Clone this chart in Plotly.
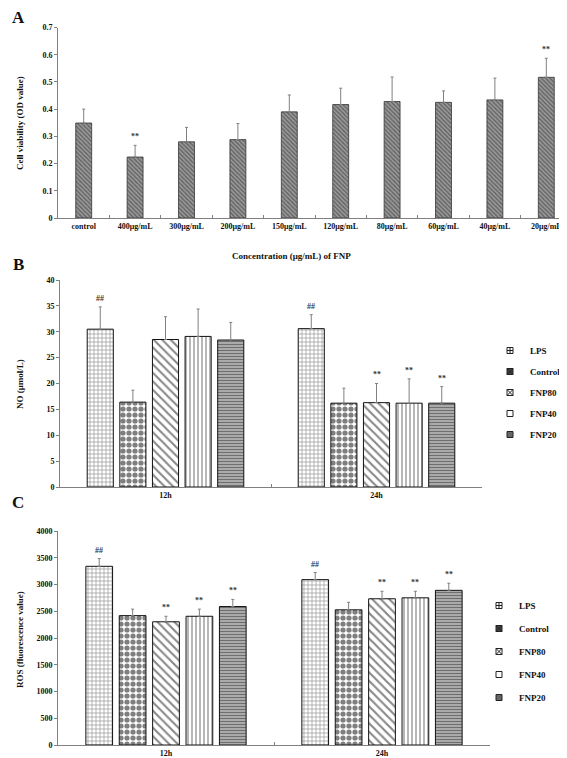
import plotly.graph_objects as go

# ---------------- data ----------------
# Panel A: cell viability
conc_labels = ["control", "400μg/mL", "300μg/mL", "200μg/mL", "150μg/mL",
               "120μg/mL", "80μg/mL", "60μg/mL", "40μg/mL", "20μg/mL"]
viability = [0.349, 0.224, 0.280, 0.288, 0.390, 0.417, 0.428, 0.425, 0.434, 0.517]
viability_err = [0.051, 0.043, 0.053, 0.059, 0.062, 0.060, 0.090, 0.042, 0.080, 0.070]
viability_sig = ["", "**", "", "", "", "", "", "", "", "**"]

# Panels B and C: groups over time
time_labels = ["12h", "24h"]
groups = ["LPS", "Control", "FNP80", "FNP40", "FNP20"]

no_lps = [30.5, 30.6]
no_control = [16.4, 16.2]
no_fnp80 = [28.5, 16.3]
no_fnp40 = [29.1, 16.2]
no_fnp20 = [28.4, 16.2]
no_lps_err = [4.3, 2.7]
no_control_err = [2.3, 2.9]
no_fnp80_err = [4.4, 3.7]
no_fnp40_err = [5.3, 4.7]
no_fnp20_err = [3.4, 3.2]
no_lps_sig = ["##", "##"]
no_control_sig = ["", ""]
no_fnp80_sig = ["", "**"]
no_fnp40_sig = ["", "**"]
no_fnp20_sig = ["", "**"]

ros_lps = [3340, 3091]
ros_control = [2418, 2527]
ros_fnp80 = [2303, 2733]
ros_fnp40 = [2406, 2751]
ros_fnp20 = [2588, 2891]
ros_lps_err = [145, 133]
ros_control_err = [122, 140]
ros_fnp80_err = [103, 140]
ros_fnp40_err = [134, 122]
ros_fnp20_err = [134, 133]
ros_lps_sig = ["##", "##"]
ros_control_sig = ["", ""]
ros_fnp80_sig = ["**", "**"]
ros_fnp40_sig = ["**", "**"]
ros_fnp20_sig = ["**", "**"]

# ---------------- styling ----------------
W, H = 567, 758
FONT = "Liberation Serif"
BARGAP = 0.227
ERRC = "#808080"
AXC = "#808080"
SIGC = "#333333"

patterns = [
    dict(shape="+", size=4, solidity=0.3, fgcolor="#222", bgcolor="#ffffff"),
    dict(shape=".", size=6, solidity=0.6, fgcolor="#000", bgcolor="#ffffff"),
    dict(shape="\\", size=6, solidity=0.35, fgcolor="#111", bgcolor="#ffffff"),
    dict(shape="|", size=4, solidity=0.35, fgcolor="#333", bgcolor="#ffffff"),
    dict(shape="-", size=3, solidity=0.5, fgcolor="#222", bgcolor="#bdbdbd"),
]
legend_symbols = [
    dict(symbol="square-cross-open", color="#222"),
    dict(symbol="square-x", color="#444"),
    dict(symbol="square-x-open", color="#222"),
    dict(symbol="square-open", color="#222"),
    dict(symbol="square", color="#666"),
]

def xd(a, b):
    return [a / W, b / W]

def yd(bottom, top):
    return [1 - bottom / H, 1 - top / H]

fig = go.Figure()
annotations = []

# Panel A
fig.add_trace(go.Bar(
    x=conc_labels, y=viability, width=0.31,
    marker=dict(color="#8c8c8c",
                pattern=dict(shape="\\", size=3, solidity=0.45, fgcolor="#2a2a2a", bgcolor="#9a9a9a"),
                line=dict(color="#333", width=0.8)),
    error_y=dict(type="data", array=viability_err, arrayminus=[0] * len(viability_err),
                 symmetric=False, color=ERRC, thickness=1, width=1.5),
    showlegend=False, xaxis="x", yaxis="y",
))
for lab, v, e, s in zip(conc_labels, viability, viability_err, viability_sig):
    if s:
        annotations.append(dict(x=lab, y=v + e, xref="x", yref="y", text=s, showarrow=False,
                                yanchor="bottom", yshift=2,
                                font=dict(family=FONT, size=8, color=SIGC, weight="bold")))

def add_group_panel(xa, ya, legend, means, errs, sigs):
    n = len(groups)
    for i, (g, m, e, s) in enumerate(zip(groups, means, errs, sigs)):
        fig.add_trace(go.Bar(
            x=time_labels, y=m, name=g, showlegend=False,
            marker=dict(color="white", pattern=patterns[i], line=dict(color="#111", width=1)),
            error_y=dict(type="data", array=e, arrayminus=[0] * len(e), symmetric=False,
                         color=ERRC, thickness=1, width=1.5),
            xaxis=xa, yaxis=ya,
        ))
        # legend entry with a small symbol, as in the original figure
        fig.add_trace(go.Scatter(
            x=[None], y=[None], mode="markers", name=g, legend=legend,
            legendgroup=legend + g,
            marker=dict(size=6, symbol=legend_symbols[i]["symbol"],
                        color=legend_symbols[i]["color"], line=dict(color="#222", width=1)),
            xaxis=xa, yaxis=ya, hoverinfo="skip",
        ))
        for k, (mv, ev, sv) in enumerate(zip(m, e, s)):
            if sv:
                xpos = k + (i - (n - 1) / 2) * (1 - BARGAP) / n
                annotations.append(dict(x=xpos, y=mv + ev, xref=xa, yref=ya, text=sv,
                                        showarrow=False, yanchor="bottom", yshift=2,
                                        font=dict(family=FONT, size=8, color=SIGC, weight="bold")))

add_group_panel("x2", "y2", "legend",
                [no_lps, no_control, no_fnp80, no_fnp40, no_fnp20],
                [no_lps_err, no_control_err, no_fnp80_err, no_fnp40_err, no_fnp20_err],
                [no_lps_sig, no_control_sig, no_fnp80_sig, no_fnp40_sig, no_fnp20_sig])
add_group_panel("x3", "y3", "legend2",
                [ros_lps, ros_control, ros_fnp80, ros_fnp40, ros_fnp20],
                [ros_lps_err, ros_control_err, ros_fnp80_err, ros_fnp40_err, ros_fnp20_err],
                [ros_lps_sig, ros_control_sig, ros_fnp80_sig, ros_fnp40_sig, ros_fnp20_sig])

tickfont = dict(family=FONT, size=8, color="#111", weight="bold")

def xaxis_style(domain, anchor):
    return dict(domain=domain, anchor=anchor, type="category", showline=True, linecolor=AXC,
                linewidth=1, ticks="inside", tickson="boundaries", ticklen=3, tickcolor=AXC,
                tickfont=tickfont, showgrid=False, zeroline=False, automargin=False, fixedrange=True)

def yaxis_style(domain, anchor, rng, dtick):
    return dict(domain=domain, anchor=anchor, range=rng, dtick=dtick, showline=True, linecolor=AXC,
                linewidth=1, ticks="outside", ticklen=3, tickcolor=AXC, tickfont=tickfont,
                showgrid=False, zeroline=False, automargin=False, fixedrange=True)

def ann_text(text, x, y, size=9, angle=0):
    annotations.append(dict(text=text, x=x / W, y=1 - y / H, xref="paper", yref="paper",
                            showarrow=False, textangle=angle, xanchor="center", yanchor="middle",
                            font=dict(family=FONT, size=size, color="#111", weight="bold")))

ann_text("A", 10, 9, size=17)
ann_text("B", 10, 256, size=17)
ann_text("C", 10, 494, size=17)
ann_text("Cell viability (OD value)", 12, 115, angle=-90)
ann_text("Concentration (μg/mL) of FNP", 283, 248)
ann_text("NO (μmol/L)", 12, 376, angle=-90)
ann_text("ROS (fluorescence value)", 12, 632, angle=-90)

legend_font = dict(family=FONT, size=9, color="#111", weight="bold")

fig.update_layout(
    width=W, height=H,
    margin=dict(l=0, r=0, t=0, b=0),
    paper_bgcolor="white", plot_bgcolor="white",
    barmode="group", bargap=BARGAP, bargroupgap=0.2,
    xaxis=xaxis_style(xd(50, 564), "y"),
    yaxis=yaxis_style(yd(210, 19.5), "x", [0, 0.7], 0.1),
    xaxis2=xaxis_style(xd(52, 474), "y2"),
    yaxis2=yaxis_style(yd(479, 272), "x2", [0, 40], 5),
    xaxis3=xaxis_style(xd(50, 482), "y3"),
    yaxis3=yaxis_style(yd(737, 523), "x3", [0, 4000], 500),
    legend=dict(x=482 / W, y=1 - 328 / H, xanchor="left", yanchor="top", font=legend_font,
                bgcolor="rgba(0,0,0,0)", traceorder="grouped", tracegroupgap=2, itemwidth=30),
    legend2=dict(x=471 / W, y=1 - 583 / H, xanchor="left", yanchor="top", font=legend_font,
                 bgcolor="rgba(0,0,0,0)", traceorder="grouped", tracegroupgap=4, itemwidth=30),
    annotations=annotations,
)

fig.write_html("out.html")
